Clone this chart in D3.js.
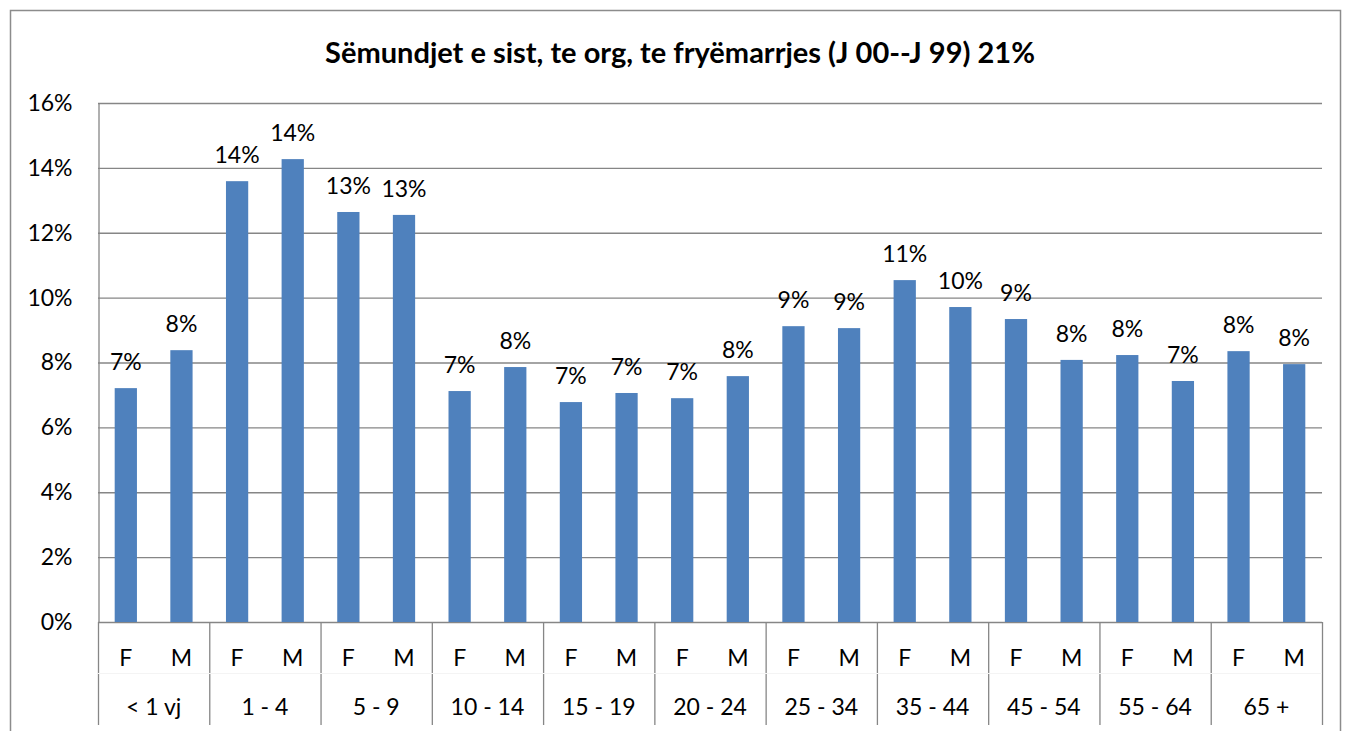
<!DOCTYPE html>
<html>
<head>
<meta charset="utf-8">
<script src="https://cdn.jsdelivr.net/npm/d3@7.9.0/dist/d3.min.js"></script>
<style>
  body { margin: 0; background: #fff; }
  text { font-family: Lato, "Open Sans", sans-serif; fill: #000; }
</style>
</head>
<body>
<svg width="1349" height="731"></svg>
<script>
const title = 'Sëmundjet e sist, te org, te fryëmarrjes (J 00--J 99) 21%';
const ageGroups = ['< 1 vj', '1 - 4', '5 - 9', '10 - 14', '15 - 19', '20 - 24', '25 - 34', '35 - 44', '45 - 54', '55 - 64', '65 +'];
const sexes = ['F', 'M'];
const femaleValues = [7.21, 13.59, 12.64, 7.12, 6.78, 6.90, 9.12, 10.54, 9.34, 8.23, 8.35];
const maleValues = [8.38, 14.27, 12.55, 7.86, 7.06, 7.58, 9.06, 9.71, 8.08, 7.43, 7.95];
const yTicks = [0, 2, 4, 6, 8, 10, 12, 14, 16];

let svg = d3.select('svg');

// outer chart frame
svg.append('rect')
  .attr('x', 10.5).attr('y', 10.5)
  .attr('width', 1330).attr('height', 740)
  .attr('fill', 'none').attr('stroke', '#8c8c8c').attr('stroke-width', 1.5);

svg.append('text')
  .attr('x', 680).attr('y', 63)
  .attr('text-anchor', 'middle')
  .attr('font-size', 29).attr('font-weight', 'bold')
  .text(title);

const plotLeft = 98, plotRight = 1322, plotTop = 103, plotBottom = 622;

// flatten into bars
let bars = [];
ageGroups.forEach((g, i) => {
  bars.push({ group: g, sex: sexes[0], value: femaleValues[i], key: g + '|F' });
  bars.push({ group: g, sex: sexes[1], value: maleValues[i], key: g + '|M' });
});

let y = d3.scaleLinear().domain([0, 16]).range([plotBottom, plotTop]);
let xGroup = d3.scaleBand().domain(ageGroups).range([plotLeft, plotRight]);
let x = d3.scaleBand().domain(bars.map(d => d.key)).range([plotLeft, plotRight]).paddingInner(0.6).paddingOuter(0.3);

// gridlines
svg.append('g')
  .selectAll('line')
  .data(yTicks)
  .join('line')
  .attr('x1', plotLeft).attr('x2', plotRight)
  .attr('y1', d => y(d) + 0.5).attr('y2', d => y(d) + 0.5)
  .attr('stroke', '#868686').attr('stroke-width', 1.3);

// y axis
let yAxis = svg.append('g')
  .attr('transform', `translate(${plotLeft + 0.5},0)`)
  .call(d3.axisLeft(y).tickValues(yTicks).tickSize(0).tickPadding(26).tickFormat(d => d + '%'));
yAxis.select('.domain').attr('stroke', '#868686').attr('stroke-width', 1.3);
yAxis.selectAll('text').attr('font-size', 23).attr('font-family', 'Lato, sans-serif');

// bars
svg.append('g')
  .selectAll('rect')
  .data(bars)
  .join('rect')
  .attr('x', d => x(d.key))
  .attr('width', x.bandwidth())
  .attr('y', d => y(d.value))
  .attr('height', d => y(0) - y(d.value))
  .attr('fill', '#4f81bd');

// data labels
svg.append('g')
  .selectAll('text')
  .data(bars)
  .join('text')
  .attr('x', d => x(d.key) + x.bandwidth() / 2)
  .attr('y', d => y(d.value) - 18)
  .attr('text-anchor', 'middle')
  .attr('font-size', 23)
  .text(d => Math.round(d.value) + '%');

// category separators below axis
svg.append('g')
  .selectAll('line')
  .data(ageGroups.concat(['end']))
  .join('line')
  .attr('x1', (d, i) => (i < ageGroups.length ? xGroup(d) : plotRight) + 0.5)
  .attr('x2', (d, i) => (i < ageGroups.length ? xGroup(d) : plotRight) + 0.5)
  .attr('y1', plotBottom).attr('y2', 725)
  .attr('stroke', '#868686').attr('stroke-width', 1.3);

svg.append('line')
  .attr('x1', plotLeft).attr('x2', plotRight)
  .attr('y1', 673.5).attr('y2', 673.5)
  .attr('stroke', '#f4f4f4').attr('stroke-width', 1);

// sex labels
svg.append('g')
  .selectAll('text')
  .data(bars)
  .join('text')
  .attr('x', d => x(d.key) + x.bandwidth() / 2)
  .attr('y', 666)
  .attr('text-anchor', 'middle')
  .attr('font-size', 23)
  .text(d => d.sex);

// age group labels
svg.append('g')
  .selectAll('text')
  .data(ageGroups)
  .join('text')
  .attr('x', d => xGroup(d) + xGroup.bandwidth() / 2)
  .attr('y', 715)
  .attr('text-anchor', 'middle')
  .attr('font-size', 23)
  .text(d => d);
</script>
</body>
</html>
